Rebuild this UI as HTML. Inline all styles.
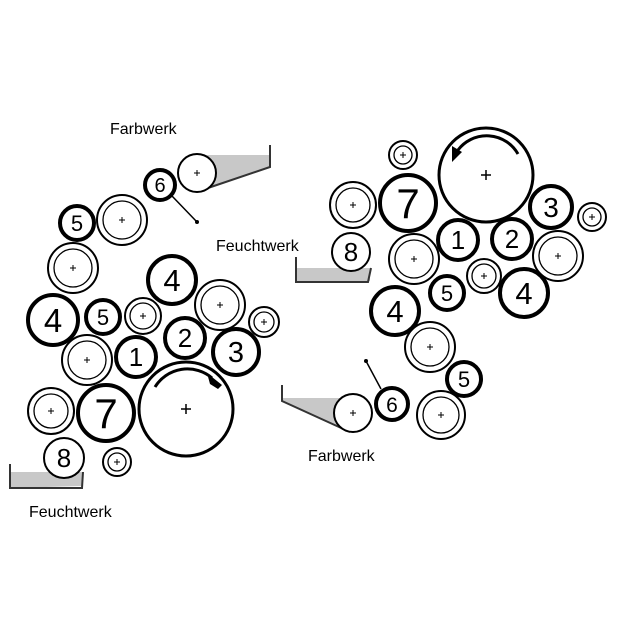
<!DOCTYPE html>
<html><head><style>body{margin:0;background:#fff}svg{display:block}</style></head><body>
<svg width="634" height="634" viewBox="0 0 634 634" xmlns="http://www.w3.org/2000/svg" font-family="Liberation Sans, sans-serif">
<defs>
<g id="p"><line x1="-5" y1="0" x2="5" y2="0" stroke="#000" stroke-width="1.5"/><line x1="0" y1="-5" x2="0" y2="5" stroke="#000" stroke-width="1.5"/></g>
<g id="ps"><line x1="-3" y1="0" x2="3" y2="0" stroke="#000" stroke-width="1"/><line x1="0" y1="-3" x2="0" y2="3" stroke="#000" stroke-width="1"/></g>
</defs>
<rect width="634" height="634" fill="#fff"/>
<g fill="#c8c8c8" stroke="none">
<polygon points="205,155 270,155 270,167 205,189"/>
<polygon points="10,472 82,472 82,486 10,488"/>
<polygon points="296,268 370,268 370,281 296,282"/>
<polygon points="282,398 352,398 352,432 282,402"/>
</g>
<g fill="none" stroke="#333" stroke-width="2">
<polyline points="270,145 270,167 205,189"/>
<polyline points="10,464 10,488 82,488 83,472"/>
<polyline points="296,257 296,282 368,282 371,268"/>
<polyline points="282,385 282,401 350,432"/>
</g>
<g stroke="#000" stroke-width="1.5"><line x1="172" y1="196" x2="197" y2="222"/><line x1="381" y1="389" x2="366" y2="361"/></g>
<circle cx="197" cy="222" r="2"/><circle cx="366" cy="361" r="2"/>
<g fill="#fff" stroke="#000">
<circle cx="186" cy="409" r="47" stroke-width="3"/>
<circle cx="197" cy="173" r="19" stroke-width="2"/>
<circle cx="64" cy="458" r="20" stroke-width="2"/>
<circle cx="143" cy="316" r="18" stroke-width="2"/><circle cx="143" cy="316" r="13" stroke-width="1.3"/>
<circle cx="220" cy="305" r="25" stroke-width="2"/><circle cx="220" cy="305" r="19" stroke-width="1.3"/>
<circle cx="264" cy="322" r="15" stroke-width="2"/><circle cx="264" cy="322" r="10" stroke-width="1.3"/>
<circle cx="87" cy="360" r="25" stroke-width="2"/><circle cx="87" cy="360" r="19" stroke-width="1.3"/>
<circle cx="73" cy="268" r="25" stroke-width="2"/><circle cx="73" cy="268" r="19" stroke-width="1.3"/>
<circle cx="122" cy="220" r="25" stroke-width="2"/><circle cx="122" cy="220" r="19" stroke-width="1.3"/>
<circle cx="51" cy="411" r="23" stroke-width="2"/><circle cx="51" cy="411" r="17" stroke-width="1.3"/>
<circle cx="117" cy="462" r="14" stroke-width="2"/><circle cx="117" cy="462" r="9" stroke-width="1.3"/>
<circle cx="106" cy="413" r="28" stroke-width="4"/>
<circle cx="136" cy="357" r="20" stroke-width="4"/>
<circle cx="185" cy="338" r="20" stroke-width="4"/>
<circle cx="236" cy="352" r="23" stroke-width="4"/>
<circle cx="172" cy="280" r="24" stroke-width="4"/>
<circle cx="53" cy="320" r="25" stroke-width="4"/>
<circle cx="103" cy="317" r="17" stroke-width="4"/>
<circle cx="77" cy="223" r="17" stroke-width="4"/>
<circle cx="160" cy="185" r="15" stroke-width="4"/>
<circle cx="486" cy="175" r="47" stroke-width="3"/>
<circle cx="353" cy="413" r="19" stroke-width="2"/>
<circle cx="351" cy="252" r="19" stroke-width="2"/>
<circle cx="403" cy="155" r="14" stroke-width="2"/><circle cx="403" cy="155" r="9" stroke-width="1.3"/>
<circle cx="353" cy="205" r="23" stroke-width="2"/><circle cx="353" cy="205" r="17" stroke-width="1.3"/>
<circle cx="592" cy="217" r="14" stroke-width="2"/><circle cx="592" cy="217" r="9" stroke-width="1.3"/>
<circle cx="414" cy="259" r="25" stroke-width="2"/><circle cx="414" cy="259" r="19" stroke-width="1.3"/>
<circle cx="558" cy="256" r="25" stroke-width="2"/><circle cx="558" cy="256" r="19" stroke-width="1.3"/>
<circle cx="484" cy="276" r="17" stroke-width="2"/><circle cx="484" cy="276" r="12" stroke-width="1.3"/>
<circle cx="430" cy="347" r="25" stroke-width="2"/><circle cx="430" cy="347" r="19" stroke-width="1.3"/>
<circle cx="441" cy="415" r="24" stroke-width="2"/><circle cx="441" cy="415" r="18" stroke-width="1.3"/>
<circle cx="408" cy="203" r="28" stroke-width="4"/>
<circle cx="551" cy="207" r="21" stroke-width="4"/>
<circle cx="458" cy="240" r="20" stroke-width="4"/>
<circle cx="512" cy="239" r="20" stroke-width="4"/>
<circle cx="447" cy="293" r="17" stroke-width="4"/>
<circle cx="524" cy="293" r="24" stroke-width="4"/>
<circle cx="395" cy="311" r="24" stroke-width="4"/>
<circle cx="464" cy="379" r="17" stroke-width="4"/>
<circle cx="392" cy="404" r="16" stroke-width="4"/>
</g>
<use href="#p" x="186" y="409"/><use href="#p" x="486" y="175"/>
<g>
<use href="#ps" x="197" y="173"/><use href="#ps" x="143" y="316"/><use href="#ps" x="220" y="305"/><use href="#ps" x="264" y="322"/>
<use href="#ps" x="87" y="360"/><use href="#ps" x="73" y="268"/><use href="#ps" x="122" y="220"/><use href="#ps" x="51" y="411"/><use href="#ps" x="117" y="462"/>
<use href="#ps" x="353" y="413"/><use href="#ps" x="403" y="155"/><use href="#ps" x="353" y="205"/><use href="#ps" x="592" y="217"/>
<use href="#ps" x="414" y="259"/><use href="#ps" x="558" y="256"/><use href="#ps" x="484" y="276"/><use href="#ps" x="430" y="347"/><use href="#ps" x="441" y="415"/>
</g>
<path d="M155,387 A38,38 0 0 1 212,378" fill="none" stroke="#000" stroke-width="3"/>
<polygon points="207,373 222,385 218,389 210,384" fill="#000"/>
<path d="M518,154 A36,36 0 0 0 458,150" fill="none" stroke="#000" stroke-width="3"/>
<polygon points="452,146 462,152 452,162" fill="#000"/>
<g text-anchor="middle" fill="#000">
<text x="106" y="428" font-size="42">7</text>
<text x="136" y="366" font-size="26">1</text>
<text x="185" y="347" font-size="26">2</text>
<text x="236" y="362" font-size="29">3</text>
<text x="172" y="291" font-size="31">4</text>
<text x="53" y="332" font-size="33">4</text>
<text x="103" y="325" font-size="22">5</text>
<text x="77" y="231" font-size="22">5</text>
<text x="160" y="192" font-size="20">6</text>
<text x="64" y="467" font-size="26">8</text>
<text x="408" y="218" font-size="42">7</text>
<text x="551" y="217" font-size="28">3</text>
<text x="458" y="249" font-size="26">1</text>
<text x="512" y="248" font-size="26">2</text>
<text x="447" y="301" font-size="22">5</text>
<text x="524" y="304" font-size="31">4</text>
<text x="395" y="322" font-size="31">4</text>
<text x="464" y="387" font-size="22">5</text>
<text x="392" y="412" font-size="21">6</text>
<text x="351" y="261" font-size="26">8</text>
</g>
<g fill="#000" font-size="16">
<text x="110" y="134">Farbwerk</text>
<text x="29" y="517">Feuchtwerk</text>
<text x="216" y="251">Feuchtwerk</text>
<text x="308" y="461">Farbwerk</text>
</g>
</svg>
</body></html>
